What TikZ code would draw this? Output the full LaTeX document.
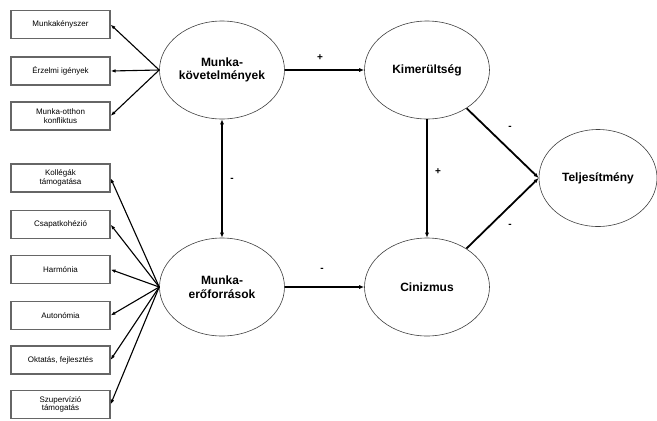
\documentclass[tikz,border=0pt]{standalone}
\usepackage{fontspec}
\setmainfont{Liberation Sans}
\usetikzlibrary{shapes.geometric,arrows.meta}
\begin{document}
\begin{tikzpicture}[x=1pt,y=-1pt,
  box/.style={draw=black!60, line width=1.1pt, minimum width=99pt, minimum height=28pt,
    inner sep=1pt, align=center, font=\fontsize{8}{8.5}\selectfont},
  ell/.style={ellipse, draw=black!75, line width=0.6pt, inner sep=0pt,
    minimum width=125pt, minimum height=98pt, align=center,
    font=\bfseries\fontsize{12}{13.5}\selectfont},
  arr/.style={-{Latex[length=5pt,width=4pt]}, line width=1.8pt},
  thin/.style={-{Latex[length=5pt,width=3.5pt]}, line width=1.1pt},
  sign/.style={font=\bfseries\fontsize{10}{11}\selectfont}]
\useasboundingbox (0,0) rectangle (657,421);
% left boxes
\node[box] (b1) at (60.5,24.5) {Munkakényszer};
\node[box] (b2) at (60.5,71) {Érzelmi igények};
\node[box] (b3) at (60.5,116) {Munka-otthon\\konfliktus};
\node[box] (b4) at (60.5,178) {Kollégák\\támogatása};
\node[box] (b5) at (60.5,224.5) {Csapatkohézió};
\node[box] (b6) at (60.5,269.5) {Harmónia};
\node[box] (b7) at (60.5,315.5) {Autonómia};
\node[box] (b8) at (60.5,360) {Oktatás, fejlesztés};
\node[box] (b9) at (60.5,404.5) {Szupervízió\\támogatás};
% ellipses
\node[ell] (mk) at (222,70) {Munka-\\követelmények};
\node[ell] (ki) at (427,70) {Kimerültség};
\node[ell] (me) at (222,287) {Munka-\\erőforrások};
\node[ell] (ci) at (427,287) {Cinizmus};
\node[ell, minimum width=118pt, minimum height=97pt] (tj) at (598,178) {Teljesítmény};
% left connectors
\foreach \b in {b1,b2,b3} \draw[thin] (mk.west) -- (\b.east);
\foreach \b in {b4,b5,b6,b7,b8,b9} \draw[thin] (me.west) -- (\b.east);
% main connectors
\draw[arr] (mk) -- (ki);
\draw[arr] (me) -- (ci);
\draw[arr, {Latex[length=5pt,width=4pt]}-{Latex[length=5pt,width=4pt]}] (mk) -- (me);
\draw[arr] (ki) -- (ci);
\draw[arr] (ki) -- (tj.west);
\draw[arr] (ci) -- (tj.west);
% signs
\node[sign] (s1) at (320,58) {+};
\node[sign] (s2) at (232,180) {-};
\node[sign] (s3) at (322,270) {-};
\node[sign] (s4) at (438,172) {+};
\node[sign] (s5) at (510,128) {-};
\node[sign] (s6) at (510,226) {-};
\end{tikzpicture}
\end{document}
